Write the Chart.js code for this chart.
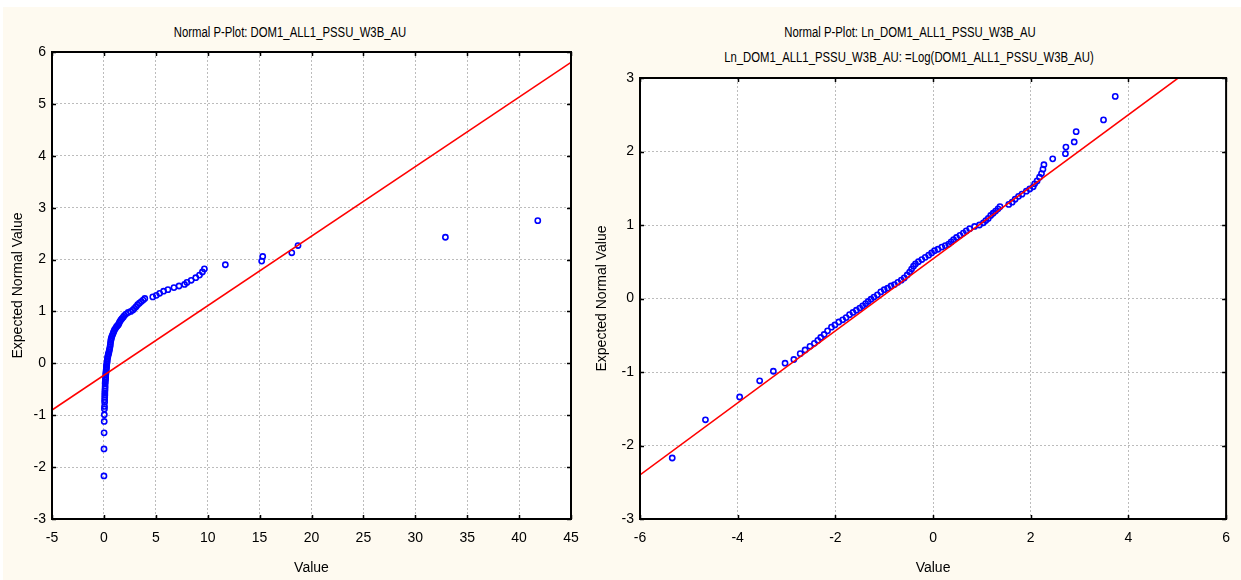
<!DOCTYPE html>
<html>
<head>
<meta charset="utf-8">
<script src="https://cdn.jsdelivr.net/npm/chart.js@4/dist/chart.umd.min.js"></script>
<style>
  html, body { margin: 0; padding: 0; background: #ffffff; }
  #page { position: relative; width: 1241px; height: 580px; overflow: hidden; }
  #paper { position: absolute; left: 3px; top: 7px; right: 0; bottom: 0; background: #fefaf0; }
  canvas { position: absolute; top: 0; }
  .ttl { position: absolute; font-family: 'Liberation Sans Narrow', 'Liberation Sans', Arial, sans-serif;
         font-size: 14px; color: #000; white-space: nowrap; transform: translate(-50%, -50%) scaleX(0.81); }
</style>
</head>
<body>
<div id="page">
  <div id="paper"></div>
  <div class="ttl" style="left:290px; top:32px;">Normal P-Plot: DOM1_ALL1_PSSU_W3B_AU</div>
  <div class="ttl" style="left:910px; top:32px;">Normal P-Plot: Ln_DOM1_ALL1_PSSU_W3B_AU</div>
  <div class="ttl" style="left:909px; top:57px;">Ln_DOM1_ALL1_PSSU_W3B_AU: =Log(DOM1_ALL1_PSSU_W3B_AU)</div>
  <canvas id="rawChart" width="590" height="580" style="left:0px"></canvas>
  <canvas id="lnChart" width="651" height="580" style="left:590px"></canvas>
</div>
<script>
// Expected normal values (shared by both plots)
const expectedNormal = [
  -2.17, -1.65, -1.34, -1.12, -0.99, -0.88, -0.83, -0.75, -0.70, -0.65,
  -0.61, -0.57, -0.53, -0.49, -0.44, -0.39, -0.36, -0.32, -0.29, -0.26,
  -0.22, -0.19, -0.16, -0.13, -0.10, -0.07, -0.04, -0.01, 0.02, 0.05,
  0.09, 0.12, 0.14, 0.17, 0.19, 0.22, 0.25, 0.28, 0.32, 0.36,
  0.40, 0.44, 0.47, 0.50, 0.53, 0.56, 0.59, 0.62, 0.65, 0.67,
  0.70, 0.72, 0.74, 0.77, 0.80, 0.83, 0.86, 0.89, 0.92, 0.95,
  0.98, 1.00, 1.03, 1.06, 1.09, 1.13, 1.16, 1.19, 1.22, 1.25,
  1.28, 1.31, 1.35, 1.39, 1.42, 1.46, 1.49, 1.52, 1.56, 1.60,
  1.65, 1.70, 1.76, 1.82, 1.90, 1.97, 2.06, 2.13, 2.27, 2.43,
  2.75
];

// DOM1_ALL1_PSSU_W3B_AU values (left plot)
const rawValues = [
  0.005, 0.01, 0.02, 0.03, 0.04, 0.05, 0.06, 0.07, 0.07, 0.08,
  0.09, 0.09, 0.10, 0.11, 0.12, 0.12, 0.13, 0.15, 0.16, 0.17,
  0.18, 0.19, 0.21, 0.22, 0.24, 0.25, 0.26, 0.28, 0.30, 0.32,
  0.34, 0.37, 0.39, 0.42, 0.45, 0.49, 0.52, 0.55, 0.59, 0.62,
  0.64, 0.67, 0.70, 0.74, 0.79, 0.85, 0.91, 0.97, 1.03, 1.11,
  1.20, 1.28, 1.38, 1.45, 1.52, 1.62, 1.73, 1.86, 1.97, 2.12,
  2.34, 2.59, 2.80, 2.94, 3.10, 3.25, 3.42, 3.60, 3.78, 3.94,
  4.71, 5.05, 5.37, 5.75, 6.17, 6.75, 7.24, 7.77, 8.00, 8.41,
  8.85, 9.21, 9.49, 9.68, 11.7, 15.2, 15.3, 18.1, 18.7, 32.9,
  41.8
];

// Ln_DOM1_ALL1_PSSU_W3B_AU values (right plot)
const lnValues = [
  -5.34, -4.66, -3.96, -3.55, -3.27, -3.03, -2.85, -2.72, -2.62, -2.52,
  -2.43, -2.36, -2.30, -2.23, -2.16, -2.08, -2.01, -1.93, -1.85, -1.78,
  -1.71, -1.64, -1.57, -1.50, -1.44, -1.38, -1.33, -1.27, -1.21, -1.14,
  -1.07, -1.00, -0.93, -0.86, -0.79, -0.72, -0.65, -0.59, -0.53, -0.48,
  -0.44, -0.40, -0.36, -0.30, -0.23, -0.16, -0.09, -0.03, 0.03, 0.10,
  0.18, 0.25, 0.32, 0.37, 0.42, 0.48, 0.55, 0.62, 0.68, 0.75,
  0.85, 0.95, 1.03, 1.08, 1.13, 1.18, 1.23, 1.28, 1.33, 1.37,
  1.55, 1.62, 1.68, 1.75, 1.82, 1.91, 1.98, 2.05, 2.08, 2.13,
  2.18, 2.22, 2.25, 2.27, 2.45, 2.71, 2.72, 2.89, 2.93, 3.49,
  3.73
];

// Red reference lines (end points)
const rawFitX = [-5, 45];
const rawFitY = [-0.90, 5.80];
const lnFitX = [-6, 6];
const lnFitY = [-2.40, 3.48];

// Axis ranges / steps
const rawXAxis = { min: -5, max: 45, step: 5 };
const rawYAxis = { min: -3, max: 6, step: 1 };
const lnXAxis = { min: -6, max: 6, step: 2 };
const lnYAxis = { min: -3, max: 3, step: 1 };

const FONT = "'Liberation Sans Narrow', 'Liberation Sans', Arial, sans-serif";
Chart.defaults.font.family = FONT;
Chart.defaults.font.size = 14;
Chart.defaults.color = '#000';

// white plot area, black frame and inward tick marks on all sides
const framePlugin = {
  id: 'frame',
  beforeDraw(chart) {
    const { ctx, chartArea: a } = chart;
    ctx.save();
    ctx.fillStyle = '#ffffff';
    ctx.fillRect(a.left, a.top, a.right - a.left, a.bottom - a.top);
    ctx.restore();
  },
  afterDraw(chart) {
    const { ctx, chartArea: a, scales } = chart;
    ctx.save();
    ctx.strokeStyle = '#000';
    ctx.lineWidth = 1.5;
    ctx.beginPath();
    scales.x.ticks.forEach(t => {
      const px = Math.round(scales.x.getPixelForValue(t.value)) + 0.5;
      ctx.moveTo(px, a.bottom); ctx.lineTo(px, a.bottom - 4);
      ctx.moveTo(px, a.top); ctx.lineTo(px, a.top + 4);
    });
    scales.y.ticks.forEach(t => {
      const py = Math.round(scales.y.getPixelForValue(t.value)) + 0.5;
      ctx.moveTo(a.left, py); ctx.lineTo(a.left + 4, py);
      ctx.moveTo(a.right, py); ctx.lineTo(a.right - 4, py);
    });
    ctx.stroke();
    ctx.lineWidth = 2;
    ctx.strokeRect(a.left, a.top, a.right - a.left, a.bottom - a.top);
    ctx.restore();
  }
};

function toPoints(xs, ys) {
  return xs.map((x, i) => ({ x: x, y: ys[i] }));
}

function makePlot(canvasId, xs, fitX, fitY, xr, yr, pad, yWidth, yTitlePad) {
  const grid = { color: '#bcbcbc', lineWidth: 1, drawTicks: false };
  return new Chart(document.getElementById(canvasId), {
    type: 'scatter',
    data: {
      datasets: [
        {
          type: 'line',
          data: toPoints(fitX, fitY),
          borderColor: '#ff0000',
          borderWidth: 1.6,
          pointRadius: 0,
          fill: false
        },
        {
          data: toPoints(xs, expectedNormal),
          pointStyle: 'circle',
          pointRadius: 2.6,
          pointBorderWidth: 1.6,
          pointBorderColor: '#0000ff',
          pointBackgroundColor: 'rgba(0,0,0,0)',
          borderColor: '#0000ff',
          backgroundColor: 'rgba(0,0,0,0)'
        }
      ]
    },
    options: {
      responsive: false,
      animation: false,
      layout: { padding: pad },
      plugins: { legend: { display: false }, tooltip: { enabled: false }, title: { display: false } },
      scales: {
        x: {
          type: 'linear',
          min: xr.min, max: xr.max,
          afterFit: s => { s.height = 61; },
          ticks: { stepSize: xr.step, padding: 11, maxRotation: 0 },
          grid: { ...grid },
          border: { display: false, dash: [2, 2] },
          title: { display: true, text: 'Value', padding: { top: 0, bottom: 3 } }
        },
        y: {
          type: 'linear',
          min: yr.min, max: yr.max,
          afterFit: s => { s.width = yWidth; },
          ticks: { stepSize: yr.step, padding: 6 },
          grid: { ...grid },
          border: { display: false, dash: [2, 2] },
          title: { display: true, text: 'Expected Normal Value', padding: { top: yTitlePad, bottom: 0 } }
        }
      }
    },
    plugins: [framePlugin]
  });
}

makePlot('rawChart', rawValues, rawFitX, rawFitY, rawXAxis, rawYAxis,
  { top: 52, right: 19, bottom: 0, left: 0 }, 52, 10);
makePlot('lnChart', lnValues, lnFitX, lnFitY, lnXAxis, lnYAxis,
  { top: 78, right: 3, bottom: 0, left: 0 }, 50, 4);
</script>
</body>
</html>
